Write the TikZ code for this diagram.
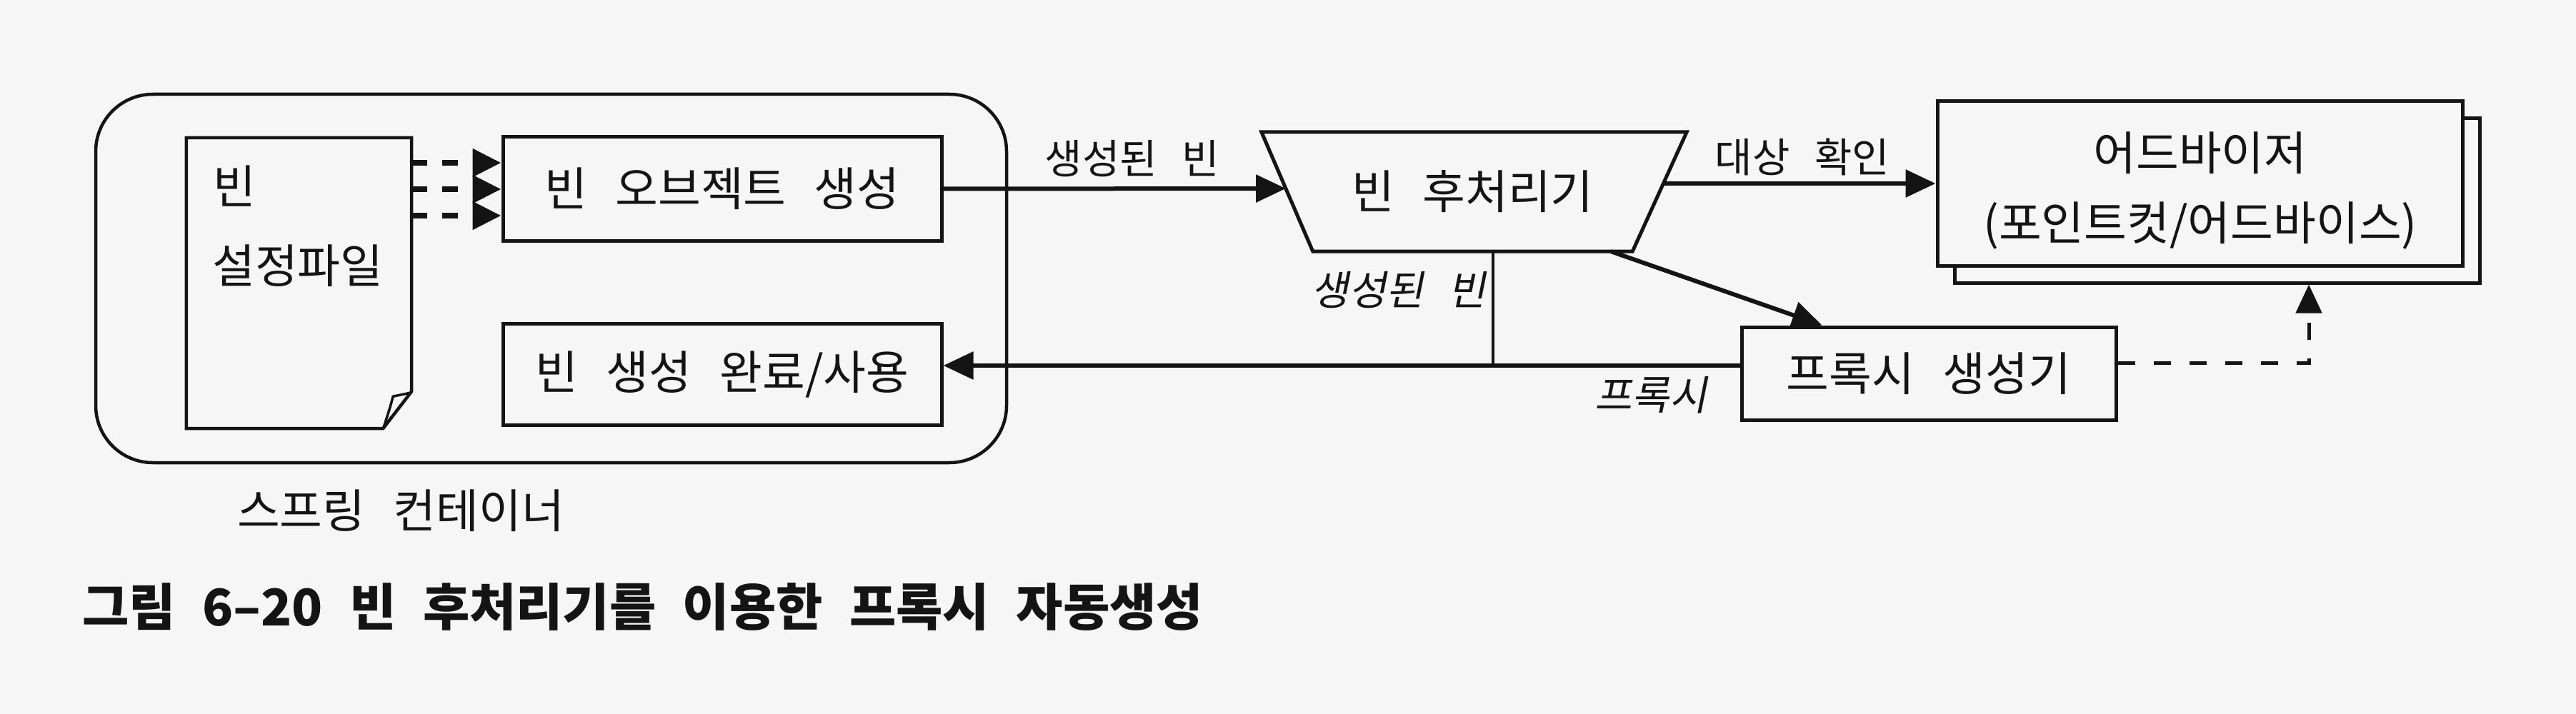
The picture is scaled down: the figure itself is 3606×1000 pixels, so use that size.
\documentclass[tikz,border=0pt]{standalone}
\usepackage{fontspec}
\setmainfont{Noto Sans CJK KR}[WordSpace=2.7]
\newfontfamily\slfont{Noto Sans CJK KR}[FakeSlant=0.2,WordSpace=2.7]
\newfontfamily\capfont{Noto Sans CJK KR}[WordSpace=2.3]
\usetikzlibrary{arrows.meta,calc}
\definecolor{bg}{gray}{0.965}
\definecolor{ink}{gray}{0.08}
\begin{document}
\begin{tikzpicture}[x=1pt,y=-1pt,
  every node/.style={text=ink},
  box/.style={draw=ink, fill=bg, line width=5pt, minimum width=614pt, minimum height=145pt, inner sep=0pt, font=\fontsize{65}{104}\selectfont},
  txt/.style={inner sep=0pt, font=\fontsize{65}{75}\selectfont},
  lbl/.style={inner sep=0pt, font=\fontsize{57}{65}\selectfont},
  slbl/.style={inner sep=0pt, font=\slfont\fontsize{57}{65}\selectfont},
  conn/.style={draw=ink, line width=6pt, -{Triangle[length=42pt,width=38pt]}},
  dsmall/.style={draw=ink, line width=8pt, dash pattern=on 22pt off 21pt, -{Triangle[length=40pt,width=38pt]}},
  dconn/.style={draw=ink, line width=5pt, dash pattern=on 24pt off 26pt, -{Triangle[length=40pt,width=36pt]}},
  plain/.style={draw=ink, line width=4.5pt}
]
\fill[bg] (0,0) rectangle (3606,1000);
\useasboundingbox (0,0) rectangle (3606,1000);

% spring container
\node[draw=ink, line width=4.5pt, rounded corners=80pt, minimum width=1275pt, minimum height=516pt, inner sep=0pt] (cont) at (771.5,390) {};
\node[txt] (contlbl) at (561,715) {스프링 컨테이너};

% bean config file (document with folded corner)
\node[inner sep=0pt, minimum width=315pt, minimum height=407pt] (doc) at (418.5,396.5) {};
\draw[plain, line join=miter] (doc.north west) -- (doc.north east) -- ($(doc.south east)+(0,-52)$) -- ($(doc.south east)+(-40,0)$) -- (doc.south west) -- cycle;
\draw[plain, line width=3.5pt] ($(doc.south east)+(-2,-50)$) -- ($(doc.south east)+(-26,-45)$) .. controls ($(doc.south east)+(-30,-30)$) .. ($(doc.south east)+(-39,-2)$);
\node[txt, anchor=west] (docA) at (298,261) {빈};
\node[txt, anchor=west] (docB) at (297,372) {설정파일};

% boxes
\node[box] (b1) at (1011,264.5) {빈 오브젝트 생성};
\node[box, minimum height=142pt] (b2) at (1011,524) {빈 생성 완료/사용};

\foreach \yy in {228,265,302}
  \draw[dsmall] (doc.east |- 0,\yy) -- (b1.west |- 0,\yy);

% bean post processor (trapezoid)
\node[txt, minimum width=447pt, minimum height=167pt] (pp) at (2061.5,268.5) {빈 후처리기};
\draw[draw=ink, line width=5pt, line join=miter] ($(pp.north west)+(-72,0)$) -- ($(pp.north east)+(76,0)$) -- (pp.south east) -- (pp.south west) -- cycle;
\coordinate (ppL) at (1800,264);
\coordinate (ppR) at (2329,257);

\draw[conn] (b1.east) -- (ppL);
\node[lbl] (l1) at (1585,222) {생성된 빈};

% advisor (stacked)
\node[box, minimum width=735pt, minimum height=230pt] (advback) at (3103.5,281) {};
\node[box, minimum width=735pt, minimum height=230pt] (adv) at (3079.5,257) {};
\node[txt] (advA) at (3080,214) {어드바이저};
\node[txt] (advB) at (3080,316) {(포인트컷/어드바이스)};
\draw[conn] (ppR) -- (adv.west |- ppR);
\node[lbl] (l2) at (2523,220) {대상 확인};

% proxy generator
\node[box, minimum width=524pt, minimum height=130pt] (px) at (2700,523) {프록시 생성기};
\draw[conn] ($(pp.south east)+(-30,0)$) -- ($(px.north west)+(115,0)$);

% return path
\coordinate (j) at (2090,512);
\draw[plain] (j |- pp.south) -- (j);
\draw[conn] (px.west |- j) -- (b2.east |- j);
\node[slbl] (l3) at (1958,406) {생성된 빈};
\node[slbl] (l4) at (2311,553) {프록시};

% dashed proxy -> advisor
\coordinate (dc) at (3232,508);
\draw[dconn] (px.east |- dc) -- (dc) -- (dc |- advback.south);

% caption
\node[inner sep=0pt, anchor=west, font=\capfont\bfseries\fontsize{71}{77}\selectfont] (cap) at (115,850) {그림 6–20 빈 후처리기를 이용한 프록시 자동생성};
\end{tikzpicture}
\end{document}
